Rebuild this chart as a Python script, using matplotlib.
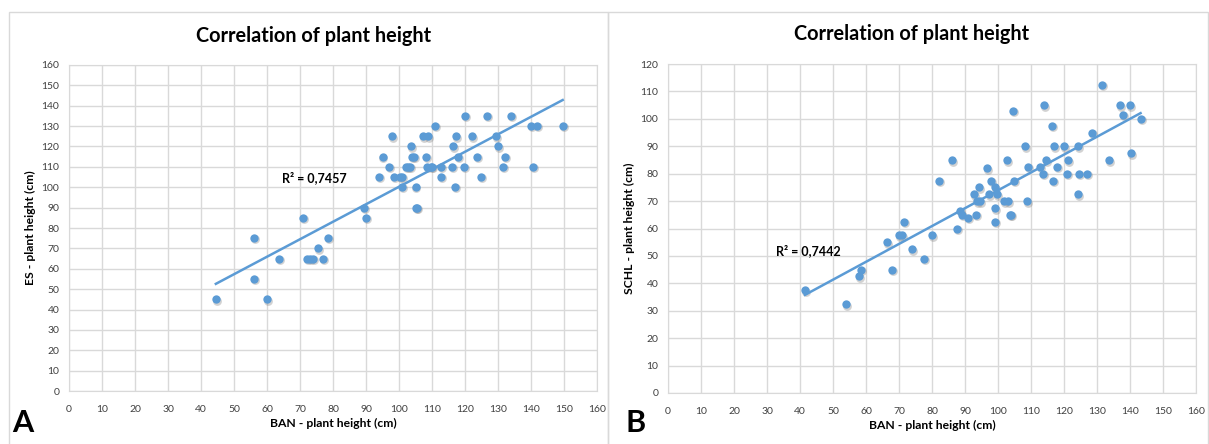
import numpy as np
import matplotlib.pyplot as plt
from matplotlib.patches import Rectangle

# panel A: BAN vs ES plant height (cm)
ban_a = [44.5, 56, 56, 60, 63.5, 71, 72, 73, 74, 75.5, 77, 78.5,
         89.5, 90, 94, 95, 97, 98, 98.5, 100.3, 100.8, 101, 102, 102.7, 103.3,
         103.5, 103.8, 104.5, 105, 105.2, 105.5, 107.3, 108.8, 108.1, 108.6, 109.6,
         110.1, 111, 112.6, 112.6, 116.1, 116.5, 117, 117.4, 117.8, 119.8, 120.1,
         122.2, 123.7, 124.7, 126.7, 129.5, 130, 131.6, 132, 133.9, 139.9, 140.5,
         141.7, 149.6]
es_a = [45, 75, 55, 45, 65, 85, 65, 65, 65, 70, 65, 75,
        90, 85, 105, 115, 110, 125, 105, 105, 105, 100, 110, 110, 110,
        120, 115, 115, 100, 90, 90, 125, 125, 115, 110, 110,
        110, 130, 110, 105, 110, 120, 100, 125, 115, 110, 135,
        125, 115, 105, 135, 125, 120, 110, 115, 135, 130, 110,
        130, 130]

# panel B: BAN vs SCHL plant height (cm)
ban_b = [41.5, 54, 58, 58.5, 66.5, 68, 70, 71, 71.5, 74, 77.5, 80, 82,
         86, 87.5, 88.5, 89, 91, 92.7, 93.4, 93.6, 94.2, 94.6, 96.7, 97.2, 98,
         99, 99.2, 99.2, 99.8, 101.7, 102.8, 102.9, 103.5, 103.9, 104.4, 104.7,
         108.2, 108.9, 109.2, 112.6, 113.6, 113.8, 114.6, 116.3, 116.7, 116.9,
         117.8, 119.9, 120.8, 121.1, 124.1, 124.3, 124.6, 126.9, 128.6, 131.5,
         133.5, 137.1, 137.8, 140, 140.3, 143.2]
schl_b = [37.5, 32.5, 42.5, 45, 55, 45, 57.5, 57.5, 62.5, 52.5, 49, 57.5, 77.5,
          85, 60, 66.5, 65, 64, 72.5, 65, 70, 75, 70, 82, 72.5, 77.5,
          67.5, 75, 62.5, 72.5, 70, 85, 70, 65, 65, 103, 77.5,
          90, 70, 82.5, 82.5, 80, 105, 85, 97.5, 77.5, 90,
          82.5, 90, 80, 85, 90, 72.5, 80, 80, 95, 112.5,
          85, 105, 101.5, 105, 87.5, 100]

title = "Correlation of plant height"
x_label = "BAN - plant height (cm)"
y_labels = ["ES - plant height (cm)", "SCHL - plant height (cm)"]
r2_texts = ["R\u00b2 = 0,7457", "R\u00b2 = 0,7442"]

BLUE = "#5B9BD5"
GRID = "#D9D9D9"
TICK = "#404040"
W, H = 1209, 444

plt.rcParams['font.family'] = ['Lato', 'DejaVu Sans']

fig = plt.figure(figsize=(W / 100, H / 100), dpi=100)


def px_axes(x0, y0, x1, y1):
    # pixel box (top-left origin) -> figure fraction
    return fig.add_axes([x0 / W, 1 - y1 / H, (x1 - x0) / W, (y1 - y0) / H])


def draw_panel(ax, xs, ys, ymax, ylabel, r2, r2_pos):
    ax.set_xlim(0, 160)
    ax.set_ylim(0, ymax)
    ax.set_xticks(np.arange(0, 161, 10))
    ax.set_yticks(np.arange(0, ymax + 1, 10))
    ax.grid(True, color=GRID, linewidth=1)
    ax.set_axisbelow(True)
    for s in ax.spines.values():
        s.set_color(GRID)
    ax.tick_params(length=0, labelsize=7.5, colors=TICK)
    ax.tick_params(axis="x", pad=10)
    ax.tick_params(axis="y", pad=7)

    xs = np.asarray(xs)
    ys = np.asarray(ys)
    # faint drop shadow under markers
    ax.scatter(xs + 0.3, ys - 0.6, s=40, color="#7f7f7f", alpha=0.35,
               linewidths=0, zorder=2)
    ax.scatter(xs, ys, s=36, color=BLUE, linewidths=0, zorder=3)

    k, b = np.polyfit(xs, ys, 1)
    lx = np.array([xs.min(), xs.max()])
    ax.plot(lx, k * lx + b, color=BLUE, linewidth=1.8, zorder=2.5)

    ax.text(r2_pos[0], r2_pos[1], r2, fontsize=9, fontweight="bold",
            ha="center", va="center")
    ax.set_xlabel(x_label, fontsize=8.7, fontweight="bold", labelpad=3)
    ax.set_ylabel(ylabel, fontsize=8.7, fontweight="bold", labelpad=4)


ax1 = px_axes(69, 65, 597, 391)
draw_panel(ax1, ban_a, es_a, 160, y_labels[0], r2_texts[0], (74.2, 104.5))

ax2 = px_axes(668, 64, 1196, 393)
draw_panel(ax2, ban_b, schl_b, 120, y_labels[1], r2_texts[1], (42.4, 52))

fig.text(314 / W, 1 - 36 / H, title, fontsize=14.3, fontweight="bold",
         ha="center", va="center")
fig.text(912 / W, 1 - 34 / H, title, fontsize=14.3, fontweight="bold",
         ha="center", va="center")

fig.text(12 / W, 1 - 423 / H, "A", fontsize=22, fontweight="bold",
         ha="left", va="center")
fig.text(626 / W, 1 - 423 / H, "B", fontsize=22, fontweight="bold",
         ha="left", va="center")

# chart frames
for x0, x1 in [(9, 608), (608, 1208)]:
    fig.patches.append(Rectangle((x0 / W, -0.1), (x1 - x0) / W, 1 - 12 / H + 0.1,
                                 transform=fig.transFigure, fill=False,
                                 edgecolor=GRID, linewidth=1))

fig.savefig("out.png", dpi=100)
